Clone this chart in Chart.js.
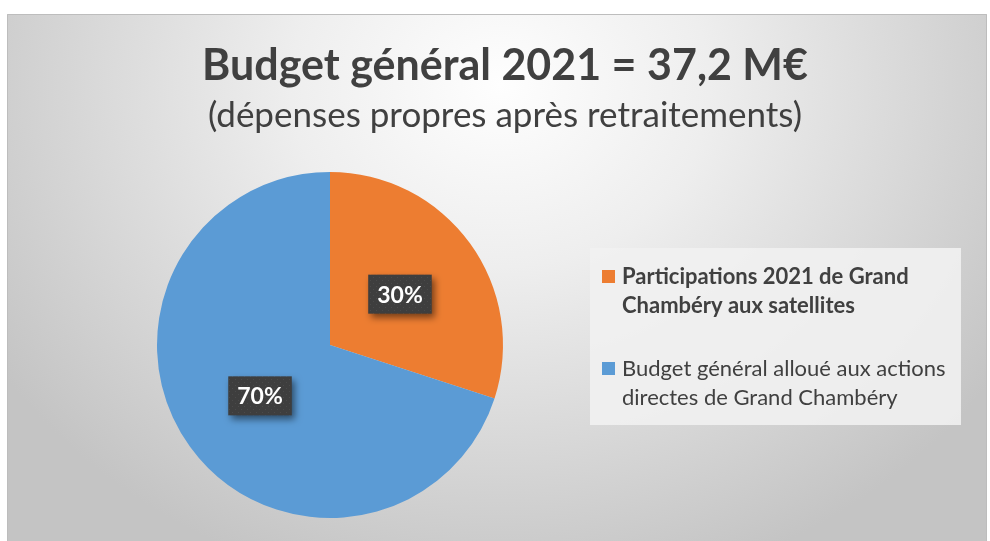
<!DOCTYPE html>
<html lang="fr">
<head>
<meta charset="utf-8">
<title>Budget général 2021</title>
<script src="https://cdn.jsdelivr.net/npm/chart.js@4.4.1/dist/chart.umd.min.js"></script>
<style>
  html, body { margin: 0; padding: 0; background: #ffffff; }
  #wrap { width: 990px; height: 541px; }
  canvas { display: block; }
</style>
</head>
<body>
<div id="wrap"><canvas id="budget" width="990" height="541"></canvas></div>
<script>
// Chart content
const titleText = 'Budget général 2021 = 37,2 M€';
const subtitleText = '(dépenses propres après retraitements)';
const categories = [
  'Participations 2021 de Grand Chambéry aux satellites',
  'Budget général alloué aux actions directes de Grand Chambéry'
];
const shares = [30, 70];

// Styling
const sliceColors = ['#ED7D31', '#5B9BD5'];
const legendBold = [true, false];
const textColor = '#404040';
const FONT = 'Lato, "Open Sans", "DejaVu Sans", sans-serif';

// Panel background with a soft radial shading and the titles
const panelPlugin = {
  id: 'panel',
  beforeDraw(chart) {
    const ctx = chart.ctx;
    const W = chart.width, H = chart.height;
    ctx.save();
    ctx.fillStyle = '#ffffff';
    ctx.fillRect(0, 0, W, H);
    const x0 = 7, y0 = 14, x1 = 987, y1 = H;
    ctx.save();
    ctx.beginPath();
    ctx.rect(x0, y0, x1 - x0, y1 - y0);
    ctx.clip();
    ctx.translate(500, 85);
    ctx.scale(1.15, 1);
    const g = ctx.createRadialGradient(0, 0, 0, 0, 0, 520);
    g.addColorStop(0, '#fefefe');
    g.addColorStop(0.35, '#eeeeee');
    g.addColorStop(1, '#c4c4c4');
    ctx.fillStyle = g;
    ctx.fillRect(-600, -200, 1200, 800);
    ctx.restore();
    ctx.strokeStyle = '#bdbdbd';
    ctx.lineWidth = 1;
    ctx.beginPath();
    ctx.moveTo(x0 + 0.5, y1);
    ctx.lineTo(x0 + 0.5, y0 + 0.5);
    ctx.lineTo(x1 - 0.5, y0 + 0.5);
    ctx.lineTo(x1 - 0.5, y1);
    ctx.stroke();

    // titles
    ctx.fillStyle = textColor;
    ctx.textAlign = 'center';
    ctx.textBaseline = 'alphabetic';
    ctx.font = 'bold 43px ' + FONT;
    ctx.fillText(titleText, 505, 80);
    ctx.font = '35px ' + FONT;
    ctx.fillText(subtitleText, 505, 127);
    ctx.restore();
  }
};

// Dotted dark fill for the percentage call-outs
function makeDotPattern(ctx) {
  const c = document.createElement('canvas');
  c.width = 6; c.height = 6;
  const p = c.getContext('2d');
  p.fillStyle = '#3e3e3e';
  p.fillRect(0, 0, 6, 6);
  p.fillStyle = '#4a4a4a';
  p.fillRect(1, 1, 1, 1);
  p.fillRect(4, 4, 1, 1);
  return ctx.createPattern(c, 'repeat');
}

// Percentage call-outs on each slice
const calloutPlugin = {
  id: 'callouts',
  afterDatasetsDraw(chart) {
    const ctx = chart.ctx;
    const meta = chart.getDatasetMeta(0);
    const data = chart.data.datasets[0].data;
    const total = data.reduce((a, b) => a + b, 0);
    const pattern = makeDotPattern(ctx);
    meta.data.forEach((arc, i) => {
      const pos = arc.tooltipPosition();
      const label = Math.round(data[i] / total * 100) + '%';
      ctx.save();
      ctx.font = 'bold 23px ' + FONT;
      const tw = ctx.measureText(label).width;
      const bw = tw + 18, bh = 39;
      const bx = pos.x - bw / 2, by = pos.y - bh / 2;
      ctx.shadowColor = 'rgba(0,0,0,0.5)';
      ctx.shadowBlur = 7;
      ctx.shadowOffsetX = 3;
      ctx.shadowOffsetY = 4;
      ctx.fillStyle = pattern;
      ctx.fillRect(bx, by, bw, bh);
      ctx.shadowColor = 'transparent';
      ctx.fillStyle = '#ffffff';
      ctx.textAlign = 'center';
      ctx.textBaseline = 'middle';
      ctx.fillText(label, pos.x, pos.y + 1);
      ctx.restore();
    });
  }
};

// Legend panel on the right with wrapped labels
function wrapText(ctx, text, maxWidth) {
  const words = text.split(' ');
  const lines = [];
  let line = '';
  words.forEach(w => {
    const test = line ? line + ' ' + w : w;
    if (ctx.measureText(test).width > maxWidth && line) {
      lines.push(line);
      line = w;
    } else {
      line = test;
    }
  });
  if (line) lines.push(line);
  return lines;
}

const legendPlugin = {
  id: 'sideLegend',
  afterDraw(chart) {
    const ctx = chart.ctx;
    const box = { x: 590, y: 248, w: 371, h: 177 };
    const itemTops = [277, 369];
    const lineGap = 29;
    ctx.save();
    ctx.fillStyle = 'rgba(241,241,241,0.9)';
    ctx.fillRect(box.x, box.y, box.w, box.h);
    chart.data.labels.forEach((lab, i) => {
      const cy = itemTops[i];
      ctx.fillStyle = chart.data.datasets[0].backgroundColor[i];
      ctx.fillRect(602, cy - 7, 13, 13);
      ctx.font = (legendBold[i] ? 'bold ' : '') + '22px ' + FONT;
      ctx.fillStyle = textColor;
      ctx.textAlign = 'left';
      ctx.textBaseline = 'middle';
      const lines = wrapText(ctx, lab, 336);
      lines.forEach((ln, k) => ctx.fillText(ln, 622, cy + k * lineGap));
    });
    ctx.restore();
  }
};

new Chart(document.getElementById('budget'), {
  type: 'pie',
  data: {
    labels: categories,
    datasets: [{
      data: shares,
      backgroundColor: sliceColors,
      borderWidth: 0,
      hoverOffset: 0
    }]
  },
  options: {
    responsive: false,
    devicePixelRatio: 1,
    animation: false,
    layout: { padding: { left: 157, right: 487, top: 172, bottom: 23 } },
    plugins: {
      legend: { display: false },
      tooltip: { enabled: false },
      title: { display: false }
    }
  },
  plugins: [panelPlugin, calloutPlugin, legendPlugin]
});
</script>
</body>
</html>
